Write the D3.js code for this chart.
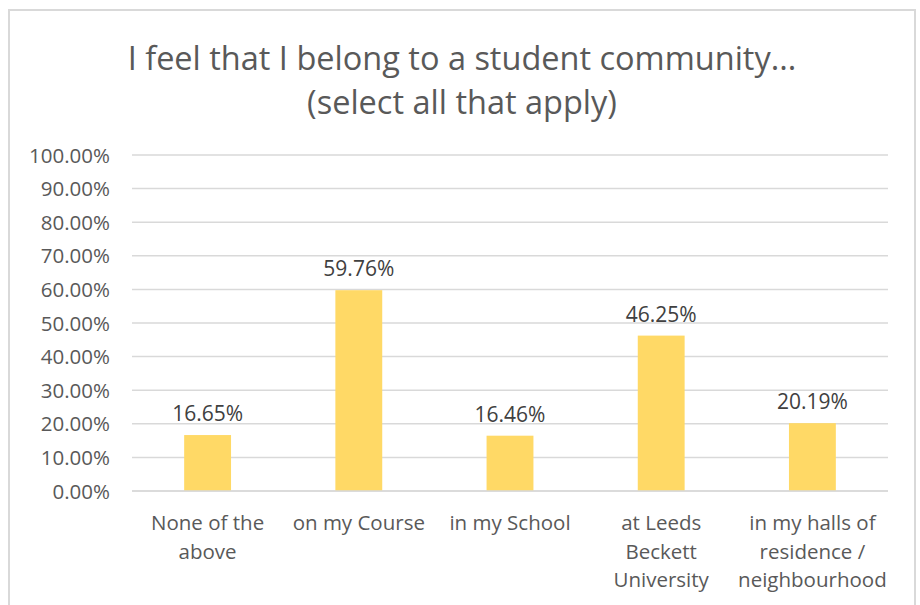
<!DOCTYPE html>
<html>
<head>
<meta charset="utf-8">
<script src="https://cdn.jsdelivr.net/npm/d3@7"></script>
<style>
  body { margin: 0; background: #fff; }
  text { font-family: "Open Sans", sans-serif; }
</style>
</head>
<body>
<div class="chart"></div>
<script>
// data
var categories = ["None of the above", "on my Course", "in my School", "at Leeds Beckett University", "in my halls of residence / neighbourhood"];
var labelLines = [["None of the", "above"], ["on my Course"], ["in my School"], ["at Leeds", "Beckett", "University"], ["in my halls of", "residence /", "neighbourhood"]];
var values = [16.65, 59.76, 16.46, 46.25, 20.19];
var yTicks = [0, 10, 20, 30, 40, 50, 60, 70, 80, 90, 100];
var titleLines = ["I feel that I belong to a student community...", "(select all that apply)"];

var width = 920;
var height = 605;

var svg = d3.select(".chart")
  .append("svg")
    .attr("width", width)
    .attr("height", height);

// chart border
svg.append("rect")
  .attr("x", 9).attr("y", 10)
  .attr("width", 906).attr("height", 620)
  .style("fill", "none")
  .style("stroke", "#d9d9d9")
  .style("stroke-width", 2);

// title
svg.append("g").selectAll("text")
  .data(titleLines)
  .enter()
  .append("text")
    .attr("x", 462)
    .attr("y", function(d, i) { return 70 + i * 44; })
    .attr("text-anchor", "middle")
    .style("font-size", "32.5px")
    .style("fill", "#595959")
    .text(function(d) { return d; });

var x = d3.scaleBand()
  .domain(categories)
  .range([132, 888])
  .paddingInner(0.69)
  .paddingOuter(0.345);

var y = d3.scaleLinear()
  .domain([0, 100])
  .range([491, 155]);

// gridlines
svg.append("g").selectAll("line")
  .data(yTicks)
  .enter()
  .append("line")
    .attr("x1", 132).attr("x2", 888)
    .attr("y1", function(d) { return y(d); })
    .attr("y2", function(d) { return y(d); })
    .style("stroke", "#d9d9d9")
    .style("stroke-width", 1.5);

// y axis labels
var yAxis = svg.append("g")
  .attr("transform", "translate(110,0)")
  .call(d3.axisLeft(y).tickValues(yTicks).tickSize(0).tickFormat(function(d) { return d.toFixed(2) + "%"; }));
yAxis.select(".domain").remove();
yAxis.selectAll("text")
  .attr("x", 0)
  .attr("dy", "0.35em")
  .style("font-size", "20.5px")
  .style("font-family", "'Open Sans', sans-serif")
  .style("fill", "#595959");

// bars
svg.append("g").selectAll("rect")
  .data(values)
  .enter()
  .append("rect")
    .attr("x", function(d, i) { return x(categories[i]); })
    .attr("y", function(d) { return y(d); })
    .attr("width", x.bandwidth())
    .attr("height", function(d) { return y(0) - y(d); })
    .style("fill", "#ffd966");

// value labels
svg.append("g").selectAll("text")
  .data(values)
  .enter()
  .append("text")
    .attr("x", function(d, i) { return x(categories[i]) + x.bandwidth() / 2; })
    .attr("y", function(d) { return y(d) - 14; })
    .attr("text-anchor", "middle")
    .style("font-size", "21px")
    .style("fill", "#404040")
    .text(function(d) { return d.toFixed(2) + "%"; });

// baseline
svg.append("line")
  .attr("x1", 132).attr("x2", 888)
  .attr("y1", y(0)).attr("y2", y(0))
  .style("stroke", "#d9d9d9")
  .style("stroke-width", 1.5);

// category labels
var cat = svg.append("g").selectAll("text")
  .data(categories)
  .enter()
  .append("text")
    .attr("text-anchor", "middle")
    .attr("x", function(d) { return x(d) + x.bandwidth() / 2; })
    .attr("y", 530)
    .style("font-size", "20.5px")
    .style("fill", "#595959");

cat.selectAll("tspan")
  .data(function(d, i) { return labelLines[i]; })
  .enter()
  .append("tspan")
    .attr("x", function() { return d3.select(this.parentNode).attr("x"); })
    .attr("dy", function(d, i) { return i === 0 ? 0 : 28.5; })
    .text(function(d) { return d; });
</script>
</body>
</html>
